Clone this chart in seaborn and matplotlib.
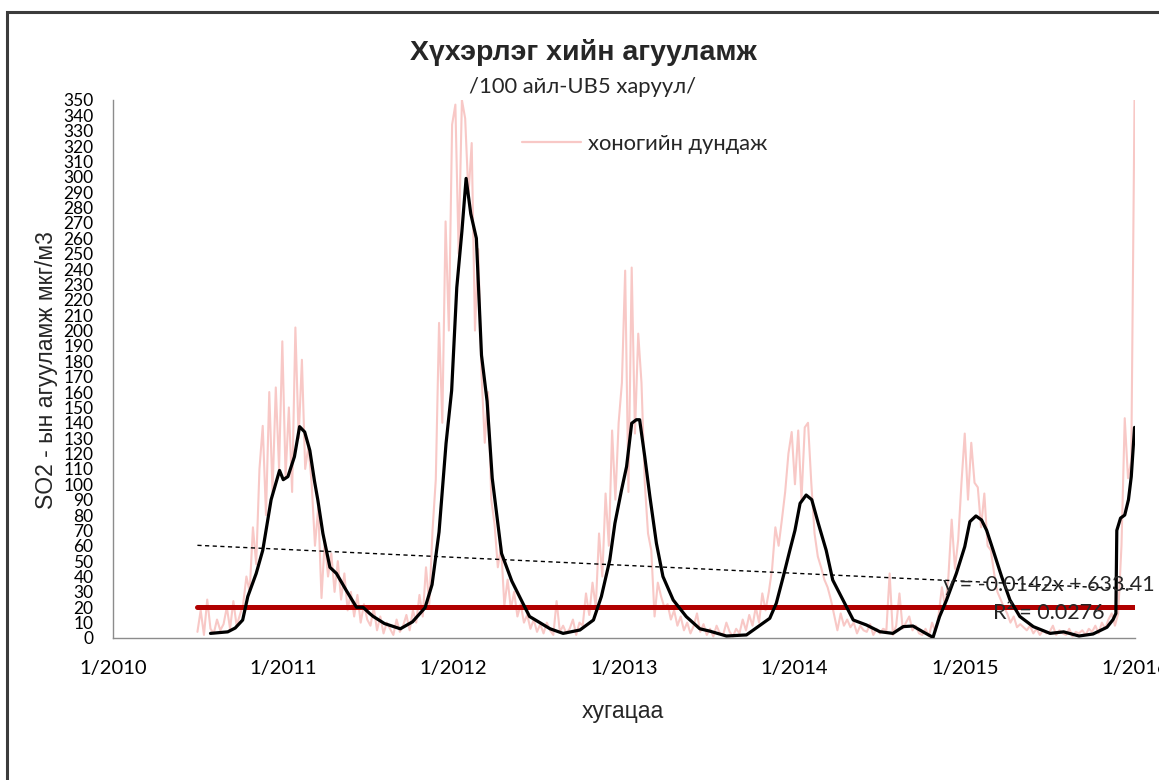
import numpy as np
import pandas as pd
import matplotlib
matplotlib.use("Agg")
import matplotlib.pyplot as plt
from matplotlib.patches import Rectangle
import seaborn as sns

# SO2 daily means, one reading per week (Thursdays, starting 2010-07-01)
daily_2010 = [4, 18, 2, 25, 6,
              3, 12, 5, 9,
              20, 6, 24, 8, 15,
              22, 40, 30, 72,
              48, 110, 138, 80,
              160, 95, 163, 110, 193]
daily_2011 = [105, 150, 95, 202,
              130, 181, 110, 125,
              100, 60, 85, 26, 64,
              40, 55, 30, 50,
              25, 42, 18, 30,
              14, 28, 10, 22, 12,
              8, 20, 5, 14,
              3, 10, 6, 2,
              12, 4, 8, 15, 5,
              18, 10, 28, 14,
              46, 22, 70, 103,
              205, 140, 271, 200, 334]
daily_2012 = [347, 250, 350, 338,
              288, 322, 200, 253,
              172, 127, 160, 90, 74,
              46, 60, 21, 38,
              19, 30, 14, 22, 10,
              15, 6, 12, 4,
              9, 3, 10, 5,
              2, 24, 4, 8, 3,
              6, 12, 2, 10,
              8, 29, 15, 36,
              20, 68, 40, 94, 60,
              135, 90, 140, 166]
daily_2013 = [239, 95, 241, 133, 198,
              166, 101, 68, 57,
              14, 36, 27, 20,
              22, 12, 18, 8,
              14, 5, 10, 3, 8,
              16, 4, 9, 2,
              6, 1, 8, 3,
              2, 10, 4, 1, 6,
              3, 12, 5, 15,
              8, 20, 10, 29, 18,
              30, 45, 72, 60,
              77, 95, 120, 134]
daily_2014 = [100, 135, 90, 137, 140,
              101, 68, 53, 46,
              38, 33, 25, 15,
              5, 16, 8, 12,
              7, 10, 3, 8, 5,
              4, 9, 2, 6,
              3, 6, 5, 42, 2,
              8, 29, 6, 10,
              14, 5, 8, 3,
              2, 6, 1, 10, 4,
              15, 33, 20, 40,
              77, 45, 64, 101]
daily_2015 = [133, 90, 127, 101, 98,
              72, 94, 60, 57,
              42, 30, 25, 20,
              16, 10, 14, 7, 9,
              7, 5, 8, 3,
              6, 2, 5, 3,
              4, 8, 2, 5, 3,
              2, 6, 1, 4,
              3, 5, 2, 6,
              4, 8, 3, 10, 6,
              12, 16, 8, 16,
              60, 143, 104, 115, 350]

# smoothed (moving average) curve
ma_dates = ["2010-07-29", "2010-09-04", "2010-09-20", "2010-10-06", "2010-10-17",
            "2010-11-04", "2010-11-18", "2010-12-06", "2010-12-24", "2011-01-01",
            "2011-01-11", "2011-01-25", "2011-02-05", "2011-02-16", "2011-02-27",
            "2011-03-09", "2011-03-16", "2011-03-27", "2011-04-11", "2011-04-25",
            "2011-05-16", "2011-06-07", "2011-06-21", "2011-07-05", "2011-07-13",
            "2011-08-06", "2011-09-09", "2011-10-05", "2011-11-01", "2011-11-16",
            "2011-12-01", "2011-12-16", "2011-12-28", "2012-01-08", "2012-01-19",
            "2012-01-28", "2012-02-07", "2012-02-19", "2012-03-01", "2012-03-13",
            "2012-03-24", "2012-04-13", "2012-05-05", "2012-05-28", "2012-06-12",
            "2012-07-26", "2012-08-23", "2012-09-28", "2012-10-27", "2012-11-13",
            "2012-12-01", "2012-12-12", "2012-12-26", "2013-01-06", "2013-01-17",
            "2013-01-27", "2013-02-03", "2013-02-14", "2013-02-25", "2013-03-11",
            "2013-03-25", "2013-04-16", "2013-05-14", "2013-06-12", "2013-07-03",
            "2013-08-08", "2013-09-20", "2013-10-15", "2013-11-09", "2013-11-23",
            "2013-12-08", "2013-12-22", "2014-01-02", "2014-01-13", "2014-01-26",
            "2014-02-07", "2014-02-21", "2014-03-10", "2014-03-24", "2014-04-15",
            "2014-05-07", "2014-06-04", "2014-07-03", "2014-07-31", "2014-08-22",
            "2014-09-12", "2014-10-03", "2014-10-25", "2014-11-08", "2014-11-23",
            "2014-12-14", "2015-01-01", "2015-01-12", "2015-01-25", "2015-02-06",
            "2015-02-17", "2015-03-03", "2015-03-21", "2015-04-08", "2015-04-29",
            "2015-05-28", "2015-07-03", "2015-08-01", "2015-09-03", "2015-10-03",
            "2015-11-02", "2015-11-15", "2015-11-21", "2015-11-23", "2015-12-01",
            "2015-12-10", "2015-12-18", "2015-12-24", "2015-12-31"]
ma_values = [3, 4, 6.5, 11.7, 27,
             42, 57, 90, 109, 103,
             105, 118, 137.5, 134, 122,
             102, 90, 68, 46, 42,
             31, 20, 20, 16, 14,
             9.4, 6, 10.5, 19.7, 34.7,
             69, 126.6, 161, 228, 264.6,
             299, 276, 260, 184, 154,
             104, 55, 37, 23, 14,
             6, 3, 5.2, 11.7, 27,
             50.7, 74.6, 96, 111.5, 139.7,
             142, 142, 118, 92, 61.6,
             40, 24.7, 13.9, 6, 4.5,
             1.3, 2, 7.4, 12.8, 22.6,
             40, 57, 70, 87.6, 93,
             90, 74.6, 57, 37.7, 24.7,
             11.7, 8.5, 4.1, 3, 7.4,
             7.8, 4.1, 0.4, 13.9, 24.7,
             42, 59.4, 75.7, 79.4, 76.8,
             70, 57, 40, 24.7, 14,
             7.4, 3, 4, 1.3, 2.6,
             7, 12, 16, 70, 78,
             80, 90, 105, 137]

# air quality norm and linear trend (x = spreadsheet day serial)
norm_value = 20
trend_slope = -0.0142
trend_intercept = 633.41
r_squared = 0.0276

year_ticks = ["2010-01-01", "2011-01-01", "2012-01-01", "2013-01-01",
              "2014-01-01", "2015-01-01", "2016-01-01"]
year_labels = ["1/2010", "1/2011", "1/2012", "1/2013", "1/2014", "1/2015", "1/2016"]

title_text = "Хүхэрлэг хийн агууламж"
subtitle_text = "/100 айл-UB5 харуул/"
legend_text = "хоногийн дундаж"
ylabel_text = "SO2 - ын агууламж мкг/м3"
xlabel_text = "хугацаа"

# ---- data frames
daily_values = daily_2010 + daily_2011 + daily_2012 + daily_2013 + daily_2014 + daily_2015
daily = pd.DataFrame({
    "date": pd.Timestamp("2010-07-01") + pd.to_timedelta(7 * np.arange(len(daily_values)), unit="D"),
    "value": daily_values,
})
smooth = pd.DataFrame({"date": pd.to_datetime(ma_dates), "value": ma_values})

span = pd.to_datetime([daily["date"].iloc[0], daily["date"].iloc[-1]])
serial = (span - pd.Timestamp("1899-12-30")).days.values
trend = pd.DataFrame({"date": span, "value": trend_slope * serial + trend_intercept})
norm = pd.DataFrame({"date": span, "value": [norm_value, norm_value]})

# ---- figure
sns.set_style("white")
plt.rcParams["font.family"] = ["Lato", "Open Sans", "DejaVu Sans"]

W, H = 1159, 780
fig = plt.figure(figsize=(W / 100, H / 100), dpi=100)
fig.patch.set_facecolor("white")
ax = fig.add_axes([113 / W, 1 - 638 / H, (1135 - 113) / W, (638 - 100) / H])

pink = "#F8C8C6"
sns.lineplot(data=daily, x="date", y="value", ax=ax, color=pink, lw=1.5,
             label=legend_text, zorder=2)
sns.lineplot(data=trend, x="date", y="value", ax=ax, color="black", lw=1.0,
             linestyle=(0, (3, 2.5)), legend=False, zorder=3)
sns.lineplot(data=norm, x="date", y="value", ax=ax, color="#B00000", lw=3.6,
             legend=False, zorder=4)
sns.lineplot(data=smooth, x="date", y="value", ax=ax, color="black", lw=2.3,
             legend=False, zorder=5)

ax.set_xlim(pd.Timestamp("2010-01-01"), pd.Timestamp("2016-01-01"))
ax.set_ylim(0, 350)
ax.set_yticks(np.arange(0, 351, 10))
ax.tick_params(axis="y", labelsize=12.5, length=0, pad=14, colors="black")
ax.set_xticks(pd.to_datetime(year_ticks))
ax.set_xticklabels(year_labels)
ax.tick_params(axis="x", labelsize=14.5, length=0, pad=16, colors="black")
for lab in ax.get_xticklabels():
    lab.set_clip_on(False)

for side in ["top", "right"]:
    ax.spines[side].set_visible(False)
for side in ["left", "bottom"]:
    ax.spines[side].set_color("#8C8C8C")
    ax.spines[side].set_linewidth(1.0)

ax.set_xlabel(xlabel_text, fontsize=16.5, family=["Liberation Sans", "DejaVu Sans"])
ax.set_ylabel(ylabel_text, fontsize=16.5, family=["Liberation Sans", "DejaVu Sans"])
ax.xaxis.set_label_coords((623 - 113) / (1135 - 113), -(700 - 638) / (638 - 100))
ax.yaxis.set_label_coords(-(113 - 58) / (1135 - 113), (638 - 370) / (638 - 100))

fig.text(583 / W, 1 - 52 / H, title_text, ha="center", va="center", fontsize=20.5,
         fontweight="bold", family=["Liberation Sans", "DejaVu Sans"])
fig.text(583 / W, 1 - 87 / H, subtitle_text, ha="center", va="center", fontsize=15.8)

leg = ax.legend(loc="upper left", bbox_to_anchor=(502 / W, 1 - 114 / H),
                bbox_transform=fig.transFigure, frameon=False, fontsize=15.8,
                handlelength=2.7, handletextpad=0.3)
for line in leg.get_lines():
    line.set_linewidth(1.6)

fig.text(1049 / W, 1 - 585 / H, f"y = {trend_slope}x + {trend_intercept}", ha="center",
         va="center", fontsize=15.5, zorder=10)
fig.text(1049 / W, 1 - 613 / H, f"R² = {r_squared}", ha="center", va="center",
         fontsize=15.5, zorder=10)

# chart frame
fig.patches.append(Rectangle((7 / W, -0.1), 1.2, (H - 12) / H + 0.1, transform=fig.transFigure,
                             fill=False, edgecolor="#3C3C3C", linewidth=2.2))

fig.savefig("out.png", dpi=100)
